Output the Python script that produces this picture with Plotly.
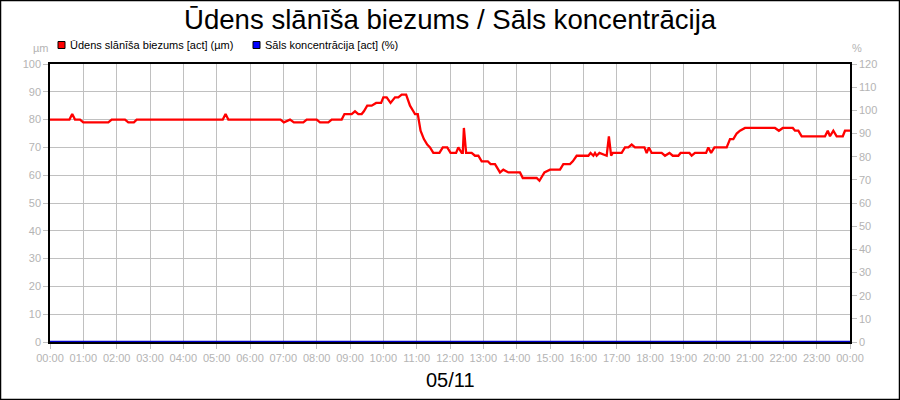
import plotly.graph_objects as go

DAY = "2023-05-11"
NEXT_DAY = "2023-05-12"

times = ["00:00","00:35","00:40","00:45","00:54","01:00","01:45","01:51","02:15","02:21","02:31","02:36",
         "05:11","05:16","05:21","06:55","07:01","07:12","07:19","07:36","07:42","08:00","08:06","08:21",
         "08:27","08:45","08:50","09:03","09:09","09:15","09:21","09:25","09:31","09:39","09:47","09:56",
         "10:00","10:06","10:13","10:21","10:27","10:33","10:41","10:48","10:54","10:57","11:02","11:07",
         "11:13","11:19","11:24","11:30","11:41","11:47","11:55","12:01","12:11","12:15","12:21","12:23",
         "12:25","12:29","12:39","12:45","12:51","12:57","13:08","13:13","13:21","13:30","13:36","13:45",
         "14:06","14:11","14:36","14:41","14:50","15:00","15:18","15:24","15:36","15:41","15:48","16:09",
         "16:13","16:18","16:21","16:24","16:29","16:39","16:42","16:46","16:50","16:53","17:09","17:15",
         "17:21","17:27","17:33","17:48","17:50","17:54","17:58","18:03","18:21","18:27","18:35","18:41",
         "18:51","18:55","19:11","19:15","19:21","19:41","19:45","19:50","19:56","20:18","20:24","20:30",
         "20:36","20:42","20:51","21:45","21:52","21:59","22:17","22:21","22:27","22:33","23:15","23:20",
         "23:24","23:30","23:36","23:47","23:51"]
thickness = [80,80,82,80,80,79,79,80,80,79,79,80,
             80,82,80,80,79,80,79,79,80,80,79,79,
             80,80,82,82,83,82,82,83,85,85,86,86,
             88,88,86,88,88,89,89,85,83,82,82,76,
             73,71,70,68,68,70,70,68,68,70,68,68,
             77,68,68,67,67,65,65,64,64,61,62,61,
             61,59,59,58,61,62,62,64,64,65,67,67,
             68,67,68,67,68,67,67,74,67,68,68,70,
             70,71,70,70,70,68,70,68,68,67,68,67,
             67,68,68,67,68,68,70,68,70,70,73,73,
             75,76,77,77,76,77,77,76,76,74,74,76,
             74,76,74,74,76]
end_value = 76

x_red = [f"{DAY} {t}" for t in times] + [f"{NEXT_DAY} 00:00"]
y_red = thickness + [end_value]

x_blue = [f"{DAY} 00:00", f"{NEXT_DAY} 00:00"]
salt = [0, 0]

title_text = "Ūdens slānīša biezums / Sāls koncentrācija"
legend_red = "Ūdens slānīša biezums [act] (µm)"
legend_blue = "Sāls koncentrācija [act] (%)"
date_label = "05/11"

FONT = "Liberation Sans, Arial, sans-serif"
GRAY = "#b4b4b4"
GRID = "#c0c0c0"

fig = go.Figure()
fig.add_trace(go.Scatter(x=x_blue, y=salt, yaxis="y2", mode="lines",
                         line=dict(color="#0000cc", width=2.5), cliponaxis=False,
                         name=legend_blue, showlegend=False))
fig.add_trace(go.Scatter(x=x_red, y=y_red, mode="lines",
                         line=dict(color="#ff0000", width=2.3),
                         name=legend_red, showlegend=False))

W, H = 900, 400
L, R, T, B = 50, 50, 64, 58
pw, ph = W - L - R, H - T - B

def px(x):
    return (x - L) / pw

def py(y):
    return 1 - (y - T) / ph

shapes = [
    dict(type="rect", xref="paper", yref="paper", x0=px(0.5), x1=px(899.5), y0=py(399.5), y1=py(0.5),
         line=dict(color="black", width=1.5), layer="above"),
    dict(type="rect", xref="paper", yref="paper", x0=px(58), x1=px(65), y0=py(48.5), y1=py(41.5),
         fillcolor="#ff0000", line=dict(color="black", width=1)),
    dict(type="rect", xref="paper", yref="paper", x0=px(253), x1=px(260), y0=py(48.5), y1=py(41.5),
         fillcolor="#0000ff", line=dict(color="black", width=1)),
]

annotations = [
    dict(text=title_text, xref="paper", yref="paper", x=0.5, y=py(19), showarrow=False,
         xanchor="center", yanchor="middle", font=dict(family=FONT, size=27.6, color="black")),
    dict(text=legend_red, xref="paper", yref="paper", x=px(68), y=py(45), showarrow=False,
         xanchor="left", yanchor="middle", font=dict(family=FONT, size=11, color="black")),
    dict(text=legend_blue, xref="paper", yref="paper", x=px(263), y=py(45), showarrow=False,
         xanchor="left", yanchor="middle", font=dict(family=FONT, size=11, color="black")),
    dict(text="µm", xref="paper", yref="paper", x=px(41), y=py(48), showarrow=False,
         xanchor="center", yanchor="middle", font=dict(family=FONT, size=11, color=GRAY)),
    dict(text="%", xref="paper", yref="paper", x=px(857), y=py(48), showarrow=False,
         xanchor="center", yanchor="middle", font=dict(family=FONT, size=11, color=GRAY)),
    dict(text=date_label, xref="paper", yref="paper", x=0.5, y=py(380), showarrow=False,
         xanchor="center", yanchor="middle", font=dict(family=FONT, size=20, color="black")),
]

fig.update_layout(
    width=W, height=H,
    margin=dict(l=L, r=R, t=T, b=B),
    paper_bgcolor="white", plot_bgcolor="white",
    font=dict(family=FONT, size=11, color=GRAY),
    showlegend=False,
    shapes=shapes, annotations=annotations,
    xaxis=dict(type="date", range=[f"{DAY} 00:00", f"{NEXT_DAY} 00:00"],
               dtick=3600000, tick0=f"{DAY} 00:00", tickformat="%H:%M",
               showgrid=True, gridcolor=GRID, gridwidth=1,
               showline=True, linecolor="black", linewidth=1.5, mirror=True,
               ticks="outside", ticklen=5, tickcolor=GRID,
               tickfont=dict(family=FONT, size=11, color=GRAY), zeroline=False),
    yaxis=dict(range=[0, 100], dtick=10, showgrid=True, gridcolor=GRID, gridwidth=1,
               showline=True, linecolor="black", linewidth=1.5, mirror=True,
               ticks="outside", ticklen=5, tickcolor=GRID,
               tickfont=dict(family=FONT, size=11, color=GRAY), zeroline=False),
    yaxis2=dict(range=[0, 120], dtick=10, overlaying="y", side="right", showgrid=False,
                showline=True, linecolor="black", linewidth=1.5,
                ticks="outside", ticklen=5, tickcolor=GRID,
                tickfont=dict(family=FONT, size=11, color=GRAY), zeroline=False),
)

fig.write_html("out.html", config={"displayModeBar": False},
               post_script="document.body.style.margin='0';document.body.style.overflow='hidden';")
